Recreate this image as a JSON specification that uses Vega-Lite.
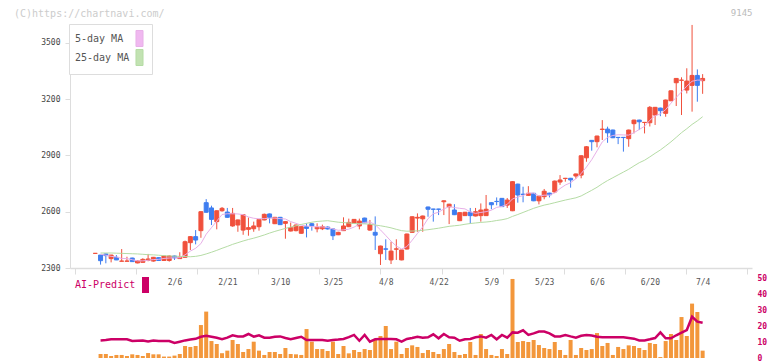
{
  "$schema": "https://vega.github.io/schema/vega-lite/v6.json",
  "autosize": {"type": "none"},
  "width": 682,
  "height": 334,
  "padding": {"left": 70, "top": 24, "right": 20, "bottom": 3},
  "background": "white",
  "title": {"text": "(C)https://chartnavi.com/", "anchor": "start", "frame": "group", "font": "DejaVu Sans Mono", "fontSize": 10, "fontWeight": "normal", "color": "#cccccc", "dx": -56, "offset": 0, "dy": 11},
  "config": {"view": {"stroke": null}, "axis": {"labelFont": "DejaVu Sans Mono", "titleFont": "DejaVu Sans Mono"}, "legend": {"labelFont": "DejaVu Sans Mono"}},
  "data": {"name": "d"},
  "resolve": {"scale": {"y": "independent", "color": "independent"}, "axis": {"y": "independent", "x": "independent"}, "legend": {"color": "independent"}},
  "datasets": {"d": [
{"i":0,"o":2378,"h":2379,"l":2377,"c":2378},
{"i":1,"o":2369,"h":2369,"l":2318,"c":2339,"m5":2374,"m25":2380,"v":2.5,"ai":11},
{"i":2,"o":2375,"h":2377,"l":2325,"c":2366,"m5":2368,"m25":2380,"v":2.5,"ai":11.2},
{"i":3,"o":2350,"h":2370,"l":2330,"c":2369,"m5":2362,"m25":2380,"v":1.25,"ai":11.7},
{"i":4,"o":2357,"h":2369,"l":2342,"c":2343,"m5":2359,"m25":2379,"v":1.9,"ai":11.7},
{"i":5,"o":2336,"h":2401,"l":2336,"c":2337,"m5":2351,"m25":2378,"v":1.9,"ai":11.7},
{"i":6,"o":2336,"h":2360,"l":2335,"c":2337,"m5":2350,"m25":2377,"v":1.25,"ai":11.7},
{"i":7,"o":2353,"h":2355,"l":2334,"c":2334,"m5":2344,"m25":2376,"v":2.3,"ai":10.6},
{"i":8,"o":2327,"h":2340,"l":2325,"c":2338,"m5":2338,"m25":2375,"v":1.9,"ai":10.8},
{"i":9,"o":2330,"h":2352,"l":2330,"c":2346,"m5":2338,"m25":2373,"v":1.25,"ai":11},
{"i":10,"o":2340,"h":2375,"l":2336,"c":2348,"m5":2341,"m25":2371,"v":3.1,"ai":10.4},
{"i":11,"o":2337,"h":2359,"l":2334,"c":2357,"m5":2345,"m25":2370,"v":2.3,"ai":11},
{"i":12,"o":2355,"h":2357,"l":2338,"c":2340,"m5":2346,"m25":2368,"v":2.3,"ai":10.6},
{"i":13,"o":2340,"h":2366,"l":2338,"c":2364,"m5":2351,"m25":2366,"v":0.9,"ai":10.6},
{"i":14,"o":2340,"h":2367,"l":2334,"c":2364,"m5":2353,"m25":2364,"v":0.9,"ai":10.6},
{"i":15,"o":2364,"h":2366,"l":2343,"c":2354,"m5":2354,"m25":2363,"v":1.5,"ai":9.4},
{"i":16,"o":2350,"h":2384,"l":2348,"c":2358,"m5":2355,"m25":2362,"v":2.5,"ai":10.2},
{"i":17,"o":2357,"h":2446,"l":2355,"c":2440,"m5":2370,"m25":2361,"v":7.5,"ai":11},
{"i":18,"o":2435,"h":2470,"l":2396,"c":2467,"m5":2390,"m25":2360,"v":6.9,"ai":11.5},
{"i":19,"o":2467,"h":2502,"l":2426,"c":2449,"m5":2405,"m25":2362,"v":7.5,"ai":12},
{"i":20,"o":2499,"h":2602,"l":2461,"c":2600,"m5":2430,"m25":2367,"v":20.6,"ai":13.3},
{"i":21,"o":2648,"h":2667,"l":2595,"c":2597,"m5":2480,"m25":2375,"v":29,"ai":13.9},
{"i":22,"o":2620,"h":2632,"l":2529,"c":2559,"m5":2515,"m25":2384,"v":10.6,"ai":13.3},
{"i":23,"o":2547,"h":2607,"l":2506,"c":2605,"m5":2550,"m25":2394,"v":8.75,"ai":12.7},
{"i":24,"o":2605,"h":2625,"l":2600,"c":2618,"m5":2585,"m25":2405,"v":3,"ai":11.7},
{"i":25,"o":2598,"h":2620,"l":2568,"c":2570,"m5":2589,"m25":2415,"v":4.6,"ai":12.7},
{"i":26,"o":2524,"h":2620,"l":2520,"c":2591,"m5":2589,"m25":2426,"v":11.25,"ai":14.2},
{"i":27,"o":2529,"h":2558,"l":2493,"c":2556,"m5":2588,"m25":2435,"v":8.75,"ai":13.5},
{"i":28,"o":2502,"h":2586,"l":2477,"c":2584,"m5":2584,"m25":2444,"v":3.75,"ai":13.5},
{"i":29,"o":2506,"h":2569,"l":2472,"c":2515,"m5":2572,"m25":2452,"v":5.6,"ai":15},
{"i":30,"o":2509,"h":2547,"l":2493,"c":2524,"m5":2565,"m25":2459,"v":10.2,"ai":13.3},
{"i":31,"o":2520,"h":2561,"l":2499,"c":2559,"m5":2562,"m25":2467,"v":4.6,"ai":14.2},
{"i":32,"o":2556,"h":2590,"l":2554,"c":2586,"m5":2563,"m25":2476,"v":1.9,"ai":12.7},
{"i":33,"o":2588,"h":2590,"l":2538,"c":2570,"m5":2565,"m25":2486,"v":3.75,"ai":12.7},
{"i":34,"o":2536,"h":2572,"l":2534,"c":2570,"m5":2566,"m25":2495,"v":3.75,"ai":13.3},
{"i":35,"o":2570,"h":2572,"l":2529,"c":2531,"m5":2563,"m25":2503,"v":2.5,"ai":13.5},
{"i":36,"o":2538,"h":2550,"l":2456,"c":2547,"m5":2561,"m25":2511,"v":6.25,"ai":12.5},
{"i":37,"o":2497,"h":2542,"l":2495,"c":2515,"m5":2547,"m25":2518,"v":2.5,"ai":11.7},
{"i":38,"o":2499,"h":2531,"l":2495,"c":2529,"m5":2538,"m25":2525,"v":2.3,"ai":12.5},
{"i":39,"o":2485,"h":2522,"l":2483,"c":2520,"m5":2528,"m25":2532,"v":1.9,"ai":13.3},
{"i":40,"o":2520,"h":2538,"l":2463,"c":2511,"m5":2524,"m25":2538,"v":18.1,"ai":11.25},
{"i":41,"o":2536,"h":2541,"l":2499,"c":2525,"m5":2520,"m25":2544,"v":10.2,"ai":11.25},
{"i":42,"o":2509,"h":2538,"l":2490,"c":2517,"m5":2520,"m25":2548,"v":5.6,"ai":11.25},
{"i":43,"o":2509,"h":2531,"l":2502,"c":2520,"m5":2519,"m25":2550,"v":5.6,"ai":11.25},
{"i":44,"o":2518,"h":2522,"l":2505,"c":2508,"m5":2516,"m25":2552,"v":4.4,"ai":10.8},
{"i":45,"o":2508,"h":2511,"l":2449,"c":2472,"m5":2508,"m25":2548,"v":10.2,"ai":11.25},
{"i":46,"o":2477,"h":2493,"l":2475,"c":2490,"m5":2501,"m25":2544,"v":2.5,"ai":11.5},
{"i":47,"o":2499,"h":2570,"l":2497,"c":2524,"m5":2503,"m25":2542,"v":7.5,"ai":11.9},
{"i":48,"o":2520,"h":2563,"l":2518,"c":2543,"m5":2507,"m25":2540,"v":2.9,"ai":13},
{"i":49,"o":2538,"h":2561,"l":2536,"c":2559,"m5":2518,"m25":2537,"v":5,"ai":14.4},
{"i":50,"o":2524,"h":2563,"l":2506,"c":2550,"m5":2533,"m25":2536,"v":3.75,"ai":10.8},
{"i":51,"o":2566,"h":2568,"l":2539,"c":2541,"m5":2543,"m25":2535,"v":5.6,"ai":14.4},
{"i":52,"o":2502,"h":2556,"l":2499,"c":2532,"m5":2545,"m25":2534,"v":5,"ai":10.2},
{"i":53,"o":2490,"h":2575,"l":2396,"c":2475,"m5":2531,"m25":2529,"v":11.7,"ai":11.7},
{"i":54,"o":2376,"h":2419,"l":2316,"c":2417,"m5":2503,"m25":2525,"v":13.75,"ai":11.9},
{"i":55,"o":2402,"h":2453,"l":2343,"c":2400,"m5":2473,"m25":2520,"v":20,"ai":11.9},
{"i":56,"o":2343,"h":2440,"l":2321,"c":2390,"m5":2443,"m25":2514,"v":5.6,"ai":11.9},
{"i":57,"o":2400,"h":2453,"l":2343,"c":2402,"m5":2417,"m25":2506,"v":10.2,"ai":11.7},
{"i":58,"o":2343,"h":2398,"l":2341,"c":2396,"m5":2401,"m25":2499,"v":2.5,"ai":10.2},
{"i":59,"o":2401,"h":2483,"l":2399,"c":2481,"m5":2414,"m25":2496,"v":6.25,"ai":11.9},
{"i":60,"o":2490,"h":2575,"l":2488,"c":2573,"m5":2448,"m25":2497,"v":7.9,"ai":12.5},
{"i":61,"o":2566,"h":2591,"l":2493,"c":2570,"m5":2484,"m25":2498,"v":6.9,"ai":13.3},
{"i":62,"o":2562,"h":2579,"l":2493,"c":2577,"m5":2519,"m25":2501,"v":3.1,"ai":12.7},
{"i":63,"o":2625,"h":2627,"l":2573,"c":2613,"m5":2563,"m25":2504,"v":5,"ai":12.9},
{"i":64,"o":2614,"h":2615,"l":2547,"c":2613,"m5":2589,"m25":2508,"v":3.75,"ai":14.8},
{"i":65,"o":2614,"h":2615,"l":2582,"c":2613,"m5":2597,"m25":2512,"v":2.5,"ai":12.3},
{"i":66,"o":2653,"h":2660,"l":2582,"c":2658,"m5":2615,"m25":2517,"v":5.6,"ai":15},
{"i":67,"o":2626,"h":2642,"l":2534,"c":2640,"m5":2627,"m25":2522,"v":8.75,"ai":12.9},
{"i":68,"o":2609,"h":2640,"l":2582,"c":2584,"m5":2622,"m25":2525,"v":3.75,"ai":12.7},
{"i":69,"o":2552,"h":2597,"l":2550,"c":2595,"m5":2618,"m25":2528,"v":1.9,"ai":10.8},
{"i":70,"o":2579,"h":2599,"l":2577,"c":2597,"m5":2615,"m25":2533,"v":2.5,"ai":11.7},
{"i":71,"o":2597,"h":2620,"l":2536,"c":2579,"m5":2599,"m25":2537,"v":10,"ai":11.9},
{"i":72,"o":2577,"h":2620,"l":2575,"c":2600,"m5":2591,"m25":2540,"v":1.9,"ai":13},
{"i":73,"o":2579,"h":2644,"l":2547,"c":2609,"m5":2596,"m25":2543,"v":15,"ai":13.5},
{"i":74,"o":2579,"h":2689,"l":2577,"c":2613,"m5":2600,"m25":2545,"v":5.6,"ai":12.7},
{"i":75,"o":2648,"h":2650,"l":2613,"c":2637,"m5":2608,"m25":2548,"v":1.9,"ai":14.4},
{"i":76,"o":2655,"h":2676,"l":2634,"c":2654,"m5":2623,"m25":2553,"v":1.25,"ai":11.7},
{"i":77,"o":2671,"h":2673,"l":2625,"c":2627,"m5":2628,"m25":2557,"v":5.6,"ai":14.4},
{"i":78,"o":2635,"h":2673,"l":2620,"c":2662,"m5":2639,"m25":2563,"v":2.5,"ai":12.7},
{"i":79,"o":2605,"h":2762,"l":2603,"c":2760,"m5":2668,"m25":2575,"v":49.4,"ai":16},
{"i":80,"o":2747,"h":2749,"l":2648,"c":2689,"m5":2678,"m25":2585,"v":10,"ai":15.8},
{"i":81,"o":2693,"h":2733,"l":2650,"c":2692,"m5":2686,"m25":2596,"v":10.6,"ai":17.3},
{"i":82,"o":2687,"h":2736,"l":2685,"c":2698,"m5":2700,"m25":2607,"v":10,"ai":14.4},
{"i":83,"o":2698,"h":2700,"l":2656,"c":2658,"m5":2699,"m25":2618,"v":11.25,"ai":15.4},
{"i":84,"o":2658,"h":2685,"l":2639,"c":2683,"m5":2684,"m25":2627,"v":8.1,"ai":16.5},
{"i":85,"o":2680,"h":2721,"l":2666,"c":2709,"m5":2688,"m25":2635,"v":6.25,"ai":16.5},
{"i":86,"o":2699,"h":2701,"l":2676,"c":2690,"m5":2688,"m25":2641,"v":5.6,"ai":15.4},
{"i":87,"o":2705,"h":2766,"l":2699,"c":2763,"m5":2701,"m25":2648,"v":10,"ai":13.5},
{"i":88,"o":2758,"h":2795,"l":2743,"c":2769,"m5":2723,"m25":2655,"v":5,"ai":13.5},
{"i":89,"o":2777,"h":2780,"l":2760,"c":2778,"m5":2742,"m25":2662,"v":1.9,"ai":14.4},
{"i":90,"o":2778,"h":2780,"l":2728,"c":2769,"m5":2754,"m25":2668,"v":11.25,"ai":13.5},
{"i":91,"o":2790,"h":2803,"l":2776,"c":2801,"m5":2776,"m25":2674,"v":1.9,"ai":12.7},
{"i":92,"o":2795,"h":2900,"l":2778,"c":2898,"m5":2803,"m25":2684,"v":6.25,"ai":13.9},
{"i":93,"o":2887,"h":2950,"l":2866,"c":2946,"m5":2838,"m25":2699,"v":5,"ai":14.4},
{"i":94,"o":2980,"h":2982,"l":2925,"c":2973,"m5":2877,"m25":2714,"v":5.6,"ai":14},
{"i":95,"o":2973,"h":3005,"l":2943,"c":3003,"m5":2924,"m25":2730,"v":15.6,"ai":13.3},
{"i":96,"o":3038,"h":3088,"l":2982,"c":3040,"m5":2972,"m25":2749,"v":7.5,"ai":12.9},
{"i":97,"o":3040,"h":3053,"l":2967,"c":3020,"m5":2996,"m25":2766,"v":9.4,"ai":12.9},
{"i":98,"o":3035,"h":3037,"l":2992,"c":2994,"m5":3006,"m25":2781,"v":1.9,"ai":12.9},
{"i":99,"o":2996,"h":2998,"l":2960,"c":2995,"m5":3010,"m25":2796,"v":6.9,"ai":12.9},
{"i":100,"o":2996,"h":2997,"l":2920,"c":2995,"m5":3009,"m25":2811,"v":5.6,"ai":12.9},
{"i":101,"o":2989,"h":3037,"l":2946,"c":3035,"m5":3008,"m25":2826,"v":7.9,"ai":12.5},
{"i":102,"o":3069,"h":3090,"l":3017,"c":3088,"m5":3021,"m25":2844,"v":7.5,"ai":12.1},
{"i":103,"o":3088,"h":3090,"l":3035,"c":3079,"m5":3038,"m25":2861,"v":6.25,"ai":11},
{"i":104,"o":3075,"h":3078,"l":3017,"c":3076,"m5":3055,"m25":2874,"v":5,"ai":11},
{"i":105,"o":3074,"h":3163,"l":3054,"c":3156,"m5":3087,"m25":2892,"v":9.4,"ai":11.7},
{"i":106,"o":3115,"h":3158,"l":3062,"c":3156,"m5":3111,"m25":2911,"v":8.75,"ai":12.5},
{"i":107,"o":3152,"h":3154,"l":3109,"c":3138,"m5":3121,"m25":2929,"v":0.6,"ai":16},
{"i":108,"o":3124,"h":3197,"l":3106,"c":3195,"m5":3144,"m25":2950,"v":10.6,"ai":12.3},
{"i":109,"o":3191,"h":3246,"l":3189,"c":3244,"m5":3178,"m25":2972,"v":15,"ai":12.3},
{"i":110,"o":3287,"h":3312,"l":3163,"c":3310,"m5":3209,"m25":2996,"v":11.25,"ai":14.2},
{"i":111,"o":3300,"h":3316,"l":3115,"c":3301,"m5":3238,"m25":3021,"v":25.6,"ai":15.8},
{"i":112,"o":3248,"h":3364,"l":3230,"c":3296,"m5":3269,"m25":3042,"v":13.75,"ai":17.5},
{"i":113,"o":3273,"h":3595,"l":3133,"c":3326,"m5":3295,"m25":3065,"v":34,"ai":25.8},
{"i":114,"o":3326,"h":3358,"l":3186,"c":3273,"m5":3301,"m25":3084,"v":28.75,"ai":22.7},
{"i":115,"o":3298,"h":3333,"l":3228,"c":3310,"m5":3301,"m25":3106,"v":4.6,"ai":22}
  ]},
  "layer": [
    {
      "resolve": {"axis": {"x": "independent"}},
      "layer": [
        {
          "mark": {"type": "rule", "strokeWidth": 1},
          "encoding": {
            "x": {"field": "i", "type": "quantitative", "scale": {"domain": [-3.84, 123.4], "nice": false, "zero": false},
              "axis": {"orient": "bottom", "offset": -90, "values": [-3.84, 7.727, 19.294, 30.861, 42.428, 53.995, 65.562, 77.129, 88.696, 100.263, 111.83, 123.4], "labels": false, "grid": false, "title": null, "tickSize": 6, "tickColor": "#dddddd", "domainColor": "#dddddd", "domainWidth": 1.5}},
            "y": {"field": "l", "type": "quantitative", "scale": {"domain": [2300, 3600], "nice": false, "zero": false, "range": [244, 0]},
              "axis": {"orient": "left", "values": [2300, 2600, 2900, 3200, 3500], "format": "d", "title": null, "grid": false, "domainColor": "#dddddd", "tickColor": "#dddddd", "tickSize": 5, "labelFontSize": 8, "labelColor": "#444444", "labelPadding": 5, "labelFlush": false}},
            "y2": {"field": "h"},
            "color": {"condition": {"test": "datum.c >= datum.o", "value": "#f0503c"}, "value": "#3e7df0"}
          }
        },
        {
          "mark": {"type": "bar", "width": 4, "strokeWidth": 1},
          "encoding": {
            "x": {"field": "i", "type": "quantitative", "scale": {"domain": [-3.84, 123.4], "nice": false, "zero": false},
              "axis": {"orient": "bottom", "offset": -90, "values": [15, 25, 35, 45, 55, 65, 75, 85, 95, 105, 115], "labelExpr": "['2/6','2/21','3/10','3/25','4/8','4/22','5/9','5/23','6/6','6/20','7/4'][round((datum.value-15)/10)]", "ticks": false, "tickSize": 0, "domain": false, "grid": false, "title": null, "labelFontSize": 8, "labelColor": "#555555", "labelPadding": 10, "labelOverlap": false, "labelFlush": false, "labelBaseline": "top"}},
            "y": {"field": "o", "type": "quantitative", "scale": {"domain": [2300, 3600], "nice": false, "zero": false, "range": [244, 0]},
              "axis": {"orient": "left", "values": [2300, 2600, 2900, 3200, 3500], "format": "d", "title": null, "grid": false, "domainColor": "#dddddd", "tickColor": "#dddddd", "tickSize": 5, "labelFontSize": 8, "labelColor": "#444444", "labelPadding": 5, "labelFlush": false}},
            "y2": {"field": "c"},
            "color": {"condition": {"test": "datum.c >= datum.o", "value": "#f0503c"}, "value": "#3e7df0"},
            "stroke": {"condition": {"test": "datum.c >= datum.o", "value": "#f0503c"}, "value": "#3e7df0"}
          }
        },
        {
          "transform": [{"fold": ["m5", "m25"], "as": ["s", "val"]}],
          "mark": {"type": "line", "strokeWidth": 1},
          "encoding": {
            "x": {"field": "i", "type": "quantitative", "scale": {"domain": [-3.84, 123.4], "nice": false, "zero": false},
              "axis": {"orient": "top", "labels": false, "ticks": false, "domain": false, "grid": false, "title": "9145", "titleAnchor": "end", "titleFontSize": 9, "titleFontWeight": "normal", "titleColor": "#bbbbbb", "titlePadding": 7}},
            "y": {"field": "val", "type": "quantitative", "scale": {"domain": [2300, 3600], "nice": false, "zero": false, "range": [244, 0]},
              "axis": {"orient": "left", "values": [2300, 2600, 2900, 3200, 3500], "format": "d", "title": null, "grid": false, "domainColor": "#dddddd", "tickColor": "#dddddd", "tickSize": 5, "labelFontSize": 8, "labelColor": "#444444", "labelPadding": 5, "labelFlush": false}},
            "color": {"field": "s", "type": "nominal", "scale": {"domain": ["m5", "m25"], "range": ["#e8b0e8", "#b5dca5"]},
              "legend": {"orient": "none", "legendX": -1, "legendY": 0, "title": null, "direction": "vertical", "fillColor": "white", "strokeColor": "#dddddd", "padding": 6, "rowPadding": -4,
                "labelFontSize": 10, "labelColor": "#555555", "labelExpr": "datum.value == 'm5' ? '\u00a05-day MA' : '25-day MA'",
                "labelOffset": -73, "symbolOffset": 56, "symbolType": "M-0.44,-1H0.44V1H-0.44Z", "symbolSize": 256, "symbolStrokeWidth": 1, "symbolStrokeColor": "#555555",
                "encode": {"symbols": {"update": {"shape": {"value": "M-0.44,-1H0.44V1H-0.44Z"}, "size": {"value": 256}, "fill": [{"test": "datum.value == 'm5'", "value": "#f0b8f0"}, {"value": "#c2e2b2"}], "stroke": {"value": "#555555"}, "strokeWidth": {"value": 1}, "opacity": {"value": 1}}}}}}
          }
        }
      ]
    },
    {
      "layer": [
        {
          "mark": {"type": "bar", "width": 4, "color": "#f3973b"},
          "encoding": {
            "x": {"field": "i", "type": "quantitative", "scale": {"domain": [-3.84, 123.4], "nice": false, "zero": false}, "axis": null},
            "y": {"field": "v", "type": "quantitative", "scale": {"domain": [0, 50], "nice": false, "range": [334, 254]},
              "axis": {"orient": "right", "values": [0, 10, 20, 30, 40, 50], "title": null, "domain": false, "ticks": false, "grid": false, "labelColor": "#cc0066", "labelFontSize": 8, "labelFontWeight": "bold", "labelPadding": 5, "labelFlush": false}}
          }
        },
        {
          "mark": {"type": "line", "strokeWidth": 2.5},
          "encoding": {
            "x": {"field": "i", "type": "quantitative", "scale": {"domain": [-3.84, 123.4], "nice": false, "zero": false}, "axis": null},
            "y": {"field": "ai", "type": "quantitative", "scale": {"domain": [0, 50], "nice": false, "range": [334, 254]},
              "axis": {"orient": "right", "values": [0, 10, 20, 30, 40, 50], "title": null, "domain": false, "ticks": false, "grid": false, "labelColor": "#cc0066", "labelFontSize": 8, "labelFontWeight": "bold", "labelPadding": 5, "labelFlush": false}},
            "color": {"datum": "AI-Predict", "scale": {"range": ["#cc0066"]},
              "legend": {"orient": "none", "legendX": 5, "legendY": 253, "title": null, "padding": 0, "labelFontSize": 10, "labelColor": "#cc0066",
                "labelOffset": -78.5, "symbolOffset": 62.5, "symbolType": "M-0.44,-1H0.44V1H-0.44Z", "symbolSize": 256, "symbolStrokeWidth": 0,
                "encode": {"symbols": {"update": {"shape": {"value": "M-0.44,-1H0.44V1H-0.44Z"}, "size": {"value": 256}, "fill": {"value": "#cc0066"}, "strokeWidth": {"value": 0}, "opacity": {"value": 1}}}}}}
          }
        }
      ]
    }
  ]
}
